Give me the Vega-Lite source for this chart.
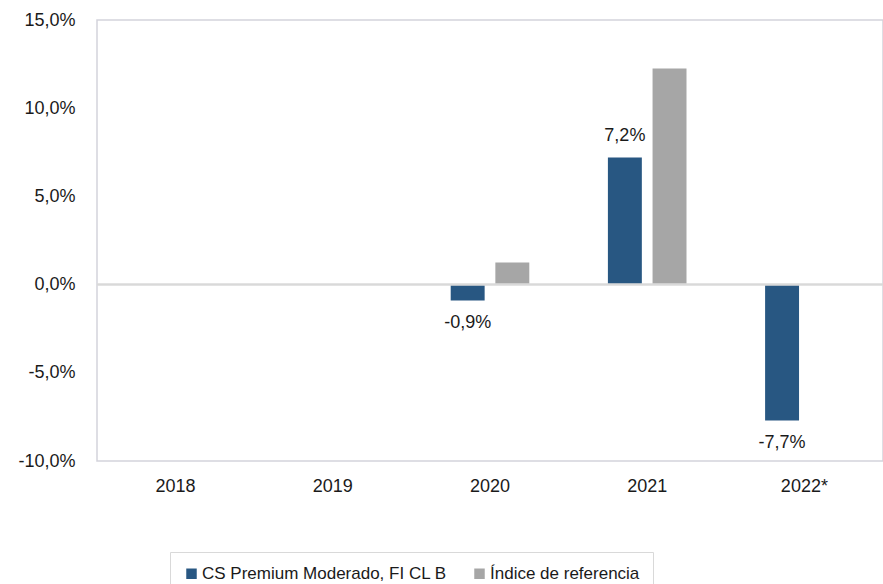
{
  "$schema": "https://vega.github.io/schema/vega-lite/v6.json",
  "autosize": "none",
  "width": 786,
  "height": 441,
  "padding": {"left": 97, "top": 20, "right": 0, "bottom": 123},
  "background": "white",
  "config": {
    "locale": {"number": {"decimal": ",", "thousands": ".", "grouping": [3], "currency": ["", " €"], "minus": "-"}},
    "font": "Liberation Sans",
    "view": {"stroke": "#d3d3db", "strokeWidth": 1.5},
    "axis": {"labelFont": "Liberation Sans", "labelFontSize": 18, "labelColor": "#1a1a1a", "domain": false, "ticks": false, "grid": false, "title": null}
  },
  "data": {
    "values": [
      {"year": "2020", "series": "CS Premium Moderado, FI CL B", "value": -0.009},
      {"year": "2020", "series": "Índice de referencia", "value": 0.0125},
      {"year": "2021", "series": "CS Premium Moderado, FI CL B", "value": 0.072},
      {"year": "2021", "series": "Índice de referencia", "value": 0.1225},
      {"year": "2022*", "series": "CS Premium Moderado, FI CL B", "value": -0.077}
    ]
  },
  "encoding": {
    "x": {
      "field": "year", "type": "nominal",
      "scale": {"domain": ["2018", "2019", "2020", "2021", "2022*"], "paddingInner": 0.5, "paddingOuter": 0.25},
      "axis": {"labelAngle": 0, "labelPadding": 16}
    },
    "xOffset": {
      "field": "series", "type": "nominal",
      "scale": {"domain": ["CS Premium Moderado, FI CL B", "Índice de referencia"], "paddingInner": 0.24, "paddingOuter": 0}
    }
  },
  "layer": [
    {
      "mark": {"type": "bar"},
      "encoding": {
        "y": {
          "field": "value", "type": "quantitative",
          "scale": {"domain": [-0.1, 0.15], "nice": false},
          "axis": {"format": ".1%", "values": [-0.1, -0.05, 0, 0.05, 0.1, 0.15], "labelPadding": 22}
        },
        "color": {
          "field": "series", "type": "nominal",
          "scale": {"domain": ["CS Premium Moderado, FI CL B", "Índice de referencia"], "range": ["#285782", "#a6a6a6"]},
          "legend": {
            "title": null, "orient": "none", "legendX": 73, "legendY": 532,
            "direction": "horizontal", "strokeColor": "#d9d9d9", "padding": 13,
            "symbolType": "square", "symbolSize": 110, "symbolStrokeWidth": 0,
            "labelFontSize": 17, "labelColor": "#1a1a1a", "labelFont": "Liberation Sans",
            "labelLimit": 400, "columnPadding": 24, "labelOffset": 2
          }
        }
      }
    },
    {
      "mark": {"type": "rule", "color": "#d9d9d9", "strokeWidth": 1.5},
      "encoding": {"y": {"datum": 0}, "x": null, "xOffset": null}
    },
    {
      "transform": [{"filter": "datum.series === 'CS Premium Moderado, FI CL B' && datum.value > 0"}],
      "mark": {"type": "text", "baseline": "bottom", "dy": -13, "fontSize": 18, "color": "#1a1a1a"},
      "encoding": {
        "y": {"field": "value", "type": "quantitative"},
        "text": {"field": "value", "type": "quantitative", "format": ".1%"}
      }
    },
    {
      "transform": [{"filter": "datum.series === 'CS Premium Moderado, FI CL B' && datum.value < 0"}],
      "mark": {"type": "text", "baseline": "top", "dy": 14, "fontSize": 18, "color": "#1a1a1a"},
      "encoding": {
        "y": {"field": "value", "type": "quantitative"},
        "text": {"field": "value", "type": "quantitative", "format": ".1%"}
      }
    }
  ]
}
